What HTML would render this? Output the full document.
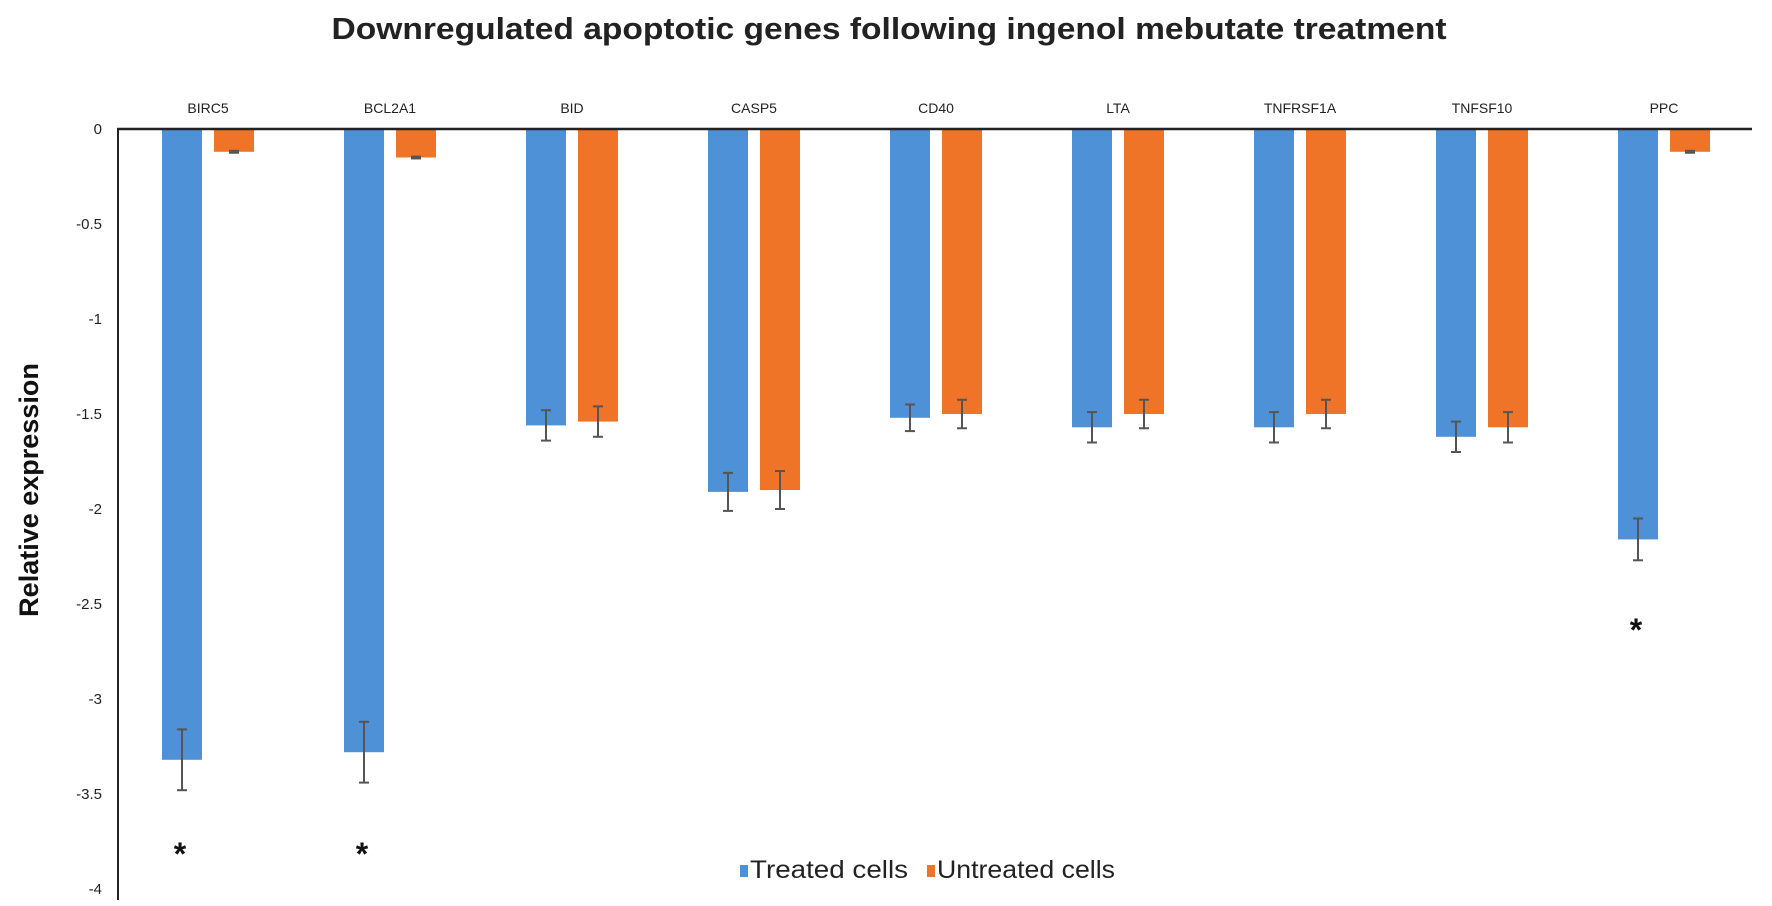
<!DOCTYPE html>
<html><head><meta charset="utf-8"><style>
html,body{margin:0;padding:0;background:#fff;}
svg{display:block;font-family:"Liberation Sans",sans-serif;}
</style></head><body>
<svg id="chart" width="1772" height="906" viewBox="0 0 1772 906">
<text x="889" y="39" text-anchor="middle" font-size="31" font-weight="bold" fill="#222" textLength="1115" lengthAdjust="spacingAndGlyphs">Downregulated apoptotic genes following ingenol mebutate treatment</text>
<text transform="translate(38,490) rotate(-90)" text-anchor="middle" font-size="27" font-weight="bold" fill="#111">Relative expression</text>
<g id="bars"></g>
<g id="axes"></g>
<g>
<rect x="740" y="865" width="8" height="12" fill="#4f91d6"></rect>
<text x="750" y="878" font-size="25" fill="#222" textLength="158" lengthAdjust="spacingAndGlyphs">Treated cells</text>
<rect x="927" y="865" width="8" height="12" fill="#f07427"></rect>
<text x="937" y="878" font-size="25" fill="#222" textLength="178" lengthAdjust="spacingAndGlyphs">Untreated cells</text>
</g>
</svg>
<script>
const categories = ["BIRC5","BCL2A1","BID","CASP5","CD40","LTA","TNFRSF1A","TNFSF10","PPC"];
const treated = [-3.32,-3.28,-1.56,-1.91,-1.52,-1.57,-1.57,-1.62,-2.16];
const untreated = [-0.12,-0.15,-1.54,-1.90,-1.50,-1.50,-1.50,-1.57,-0.12];
const treatedErr = [0.16,0.16,0.08,0.1,0.07,0.08,0.08,0.08,0.11];
const untreatedErr = [0.005,0.005,0.08,0.1,0.075,0.075,0.075,0.08,0.005];
const significant = [true,true,false,false,false,false,false,false,true];
const starLevel = [-3.78,-3.78,0,0,0,0,0,0,-2.6];
const yTicks = [0,-0.5,-1,-1.5,-2,-2.5,-3,-3.5,-4];
const yTickLabels = ["0","-0.5","-1","-1.5","-2","-2.5","-3","-3.5","-4"];

const NS="http://www.w3.org/2000/svg";
const x0=117, bandW=182, y0=129, unit=190;
const yScale = v => y0 - v*unit;
const xCenter = i => x0 + (i+0.5)*bandW;
const bars=document.getElementById('bars'), axes=document.getElementById('axes');
function mk(tag,attrs,parent){const e=document.createElementNS(NS,tag);for(const k in attrs)e.setAttribute(k,attrs[k]);parent.appendChild(e);return e;}
function errBar(cx,v,err,parent){
  const a=yScale(v-err), b=yScale(v+err);
  const g=mk('g',{stroke:'#555','stroke-width':2},parent);
  
  
  mk('line',{x1:cx,x2:cx,y1:a,y2:b},g);
  mk('line',{x1:cx-5,x2:cx+5,y1:a,y2:a},g);
  mk('line',{x1:cx-5,x2:cx+5,y1:b,y2:b},g);
}
categories.forEach((c,i)=>{
  const cx=xCenter(i);
  const bw=40;
  const series=[[treated[i],treatedErr[i],'#4f91d6','treated',cx-26],[untreated[i],untreatedErr[i],'#f07427','untreated',cx+26]];
  series.forEach(s=>{
    const r=mk('rect',{x:s[4]-bw/2,y:yScale(0),width:bw,height:yScale(s[0])-yScale(0),fill:s[2]},bars);
    
    
    errBar(s[4],s[0],s[1],bars);
  });
  const t=mk('text',{x:cx,y:113,'text-anchor':'middle','font-size':14,fill:'#222'},axes);
  t.textContent=c;
  
  
  if(significant[i]){
    const s=mk('text',{x:cx-28,y:yScale(starLevel[i])+18,'text-anchor':'middle','font-size':32,'font-weight':'bold',fill:'#111'},bars);
    s.textContent='*';
    
    
  }
});
yTicks.forEach((v,i)=>{
  const t=mk('text',{x:102,y:yScale(v)+5,'text-anchor':'end','font-size':15,fill:'#222'},axes);
  t.textContent=yTickLabels[i];
  
  
});
const xl=mk('line',{x1:117,x2:1752,y1:y0,y2:y0,stroke:'#222','stroke-width':2.5},axes);


const yl=mk('line',{x1:118,x2:118,y1:y0,y2:900,stroke:'#222','stroke-width':2},axes);


</script>
</body></html>
